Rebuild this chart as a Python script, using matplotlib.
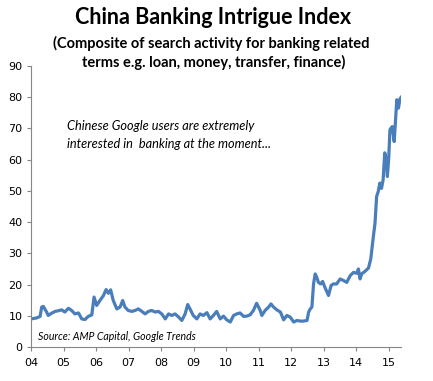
import matplotlib
matplotlib.use("Agg")
import matplotlib.pyplot as plt

years = [2004.00, 2004.17, 2004.28, 2004.33, 2004.38, 2004.48, 2004.53, 2004.63,
         2004.74, 2004.84, 2004.94, 2005.04, 2005.15, 2005.25, 2005.35, 2005.46,
         2005.56, 2005.66, 2005.76, 2005.87, 2005.94, 2006.02, 2006.12, 2006.23,
         2006.31, 2006.38, 2006.45, 2006.53, 2006.64, 2006.74, 2006.82, 2006.89,
         2006.99, 2007.10, 2007.20, 2007.30, 2007.41, 2007.51, 2007.61, 2007.71,
         2007.82, 2007.92, 2008.02, 2008.13, 2008.23, 2008.33, 2008.43, 2008.54,
         2008.64, 2008.74, 2008.82, 2008.89, 2008.99, 2009.10, 2009.20, 2009.30,
         2009.41, 2009.51, 2009.61, 2009.71, 2009.82, 2009.92, 2010.02, 2010.13,
         2010.23, 2010.33, 2010.43, 2010.54, 2010.64, 2010.74, 2010.84, 2010.94,
         2011.05, 2011.10, 2011.20, 2011.31, 2011.38, 2011.46, 2011.56, 2011.67,
         2011.77, 2011.87, 2011.97, 2012.08, 2012.18, 2012.28, 2012.38, 2012.49,
         2012.54, 2012.59, 2012.64, 2012.69, 2012.74, 2012.79, 2012.84, 2012.91,
         2012.97, 2013.04, 2013.15, 2013.23, 2013.30, 2013.40, 2013.51, 2013.61,
         2013.71, 2013.82, 2013.92, 2014.02, 2014.07, 2014.12, 2014.17, 2014.28,
         2014.38, 2014.45, 2014.48, 2014.53, 2014.58, 2014.63, 2014.68, 2014.73,
         2014.78, 2014.83, 2014.88, 2014.93, 2014.96, 2015.00, 2015.04, 2015.11,
         2015.17, 2015.20, 2015.25, 2015.30, 2015.35, 2015.40]
values = [9.0, 9.3, 9.8, 12.8, 13.0, 11.2, 10.1, 10.8,
          11.4, 11.6, 11.9, 11.2, 12.4, 11.7, 10.6, 10.9,
          9.0, 8.8, 9.8, 10.3, 16.0, 13.3, 14.9, 16.5,
          18.4, 17.2, 18.3, 14.9, 12.2, 12.8, 14.9, 12.8,
          11.7, 11.4, 11.7, 12.2, 11.4, 10.6, 11.4, 11.7,
          11.2, 11.4, 10.6, 9.0, 10.6, 10.1, 10.6, 9.6,
          8.5, 10.6, 13.6, 12.2, 10.1, 9.0, 10.6, 10.1,
          11.0, 9.0, 10.1, 11.4, 9.0, 9.9, 8.7, 8.0,
          10.1, 10.6, 10.9, 9.8, 9.9, 10.3, 11.7, 14.0,
          11.7, 10.1, 11.7, 12.8, 13.8, 12.8, 11.9, 11.2,
          8.7, 10.1, 9.6, 8.0, 8.5, 8.3, 8.3, 8.5,
          11.2, 12.2, 12.8, 20.2, 23.4, 22.3, 20.7, 20.2,
          21.0, 19.1, 16.5, 19.7, 20.2, 20.2, 21.8, 21.3,
          20.7, 22.9, 23.9, 23.6, 25.0, 21.8, 23.4, 24.3,
          25.3, 28.2, 31.0, 35.4, 39.6, 48.2, 49.8, 52.5,
          50.8, 53.5, 62.2, 60.0, 54.6, 60.0, 69.6, 70.6,
          65.8, 70.6, 79.2, 76.5, 79.5, 80.2]
tick_years = list(range(2004, 2016))
tick_labels = ["04", "05", "06", "07", "08", "09", "10", "11", "12", "13", "14", "15"]
y_ticks = list(range(0, 100, 10))

W, H = 433, 381
fig = plt.figure(figsize=(W / 100, H / 100), dpi=100)
ax = fig.add_axes([31 / W, 1 - 347 / H, (401 - 31) / W, (347 - 66) / H])

ax.plot(years, values, color="#4a7ebb", lw=2.3, solid_joinstyle="round")
ax.set_xlim(2004, 2015.38)
ax.set_ylim(0, 90)
ax.set_xticks(tick_years)
ax.set_xticklabels(tick_labels)
ax.set_yticks(y_ticks)
for s in ["top", "right"]:
    ax.spines[s].set_visible(False)
for s in ["left", "bottom"]:
    ax.spines[s].set_color("#868686")
    ax.spines[s].set_linewidth(0.8)
ax.tick_params(axis="both", direction="out", length=3, color="#868686",
               labelsize=8, labelcolor="#000000", pad=3)
ax.tick_params(axis="x", pad=5)

fig.text(213 / W, 1 - 18 / H, "China Banking Intrigue Index", ha="center", va="center",
         fontsize=15.5, fontweight="bold", family="Lato")
fig.text(211 / W, 1 - 43 / H, "(Composite of search activity for banking related",
         ha="center", va="center", fontsize=10.5, fontweight="bold", family="Lato")
fig.text(214 / W, 1 - 62 / H, "terms e.g. loan, money, transfer, finance)",
         ha="center", va="center", fontsize=10.5, fontweight="bold", family="Lato")

ax.text(67 / W, 1 - 126 / H, "Chinese Google users are extremely", transform=fig.transFigure,
        ha="left", va="center", fontsize=9.2, style="italic", family="Lato")
ax.text(67 / W, 1 - 144 / H, "interested in  banking at the moment...", transform=fig.transFigure,
        ha="left", va="center", fontsize=9.2, style="italic", family="Lato")
ax.text(38 / W, 1 - 336 / H, "Source: AMP Capital, Google Trends", transform=fig.transFigure,
        ha="left", va="center", fontsize=7.6, style="italic", family="Lato")

fig.savefig("out.png", dpi=100)
